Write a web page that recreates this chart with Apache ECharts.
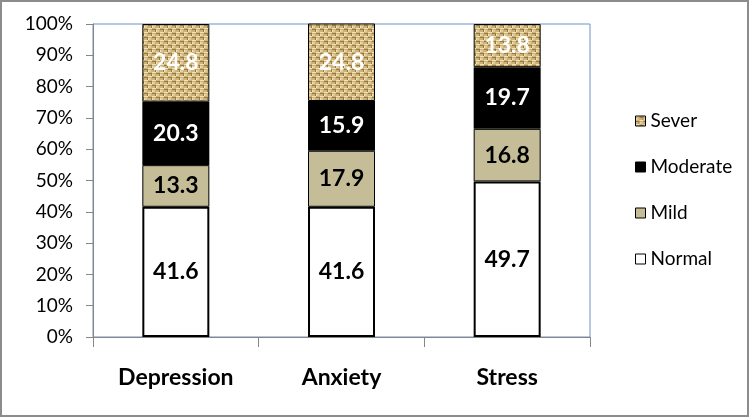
<!DOCTYPE html>
<html>
<head>
<meta charset="utf-8">
<script src="https://cdn.jsdelivr.net/npm/echarts@6/dist/echarts.min.js"></script>
<style>
  html, body { margin: 0; padding: 0; background: #fff; }
  #chart { width: 750px; height: 418px; }
</style>
</head>
<body>
<div id="chart"></div>
<script>
// data
const categories = ['Depression', 'Anxiety', 'Stress']
const normal = [41.6, 41.6, 49.7]
const mild = [13.3, 17.9, 16.8]
const moderate = [20.3, 15.9, 19.7]
const sever = [24.8, 24.8, 13.8]
const legendOrder = ['Sever', 'Moderate', 'Mild', 'Normal']

// burlap-like woven texture for the "Sever" part
function makeWeave () {
  let c = document.createElement('canvas')
  c.width = 8
  c.height = 8
  let ctx = c.getContext('2d')
  ctx.fillStyle = '#cdb37a'
  ctx.fillRect(0, 0, 8, 8)
  ctx.fillStyle = '#efe2b8'
  ctx.fillRect(0, 0, 4, 1)
  ctx.fillRect(4, 4, 4, 1)
  ctx.fillRect(0, 2, 1, 2)
  ctx.fillRect(4, 6, 1, 2)
  ctx.fillStyle = '#977a40'
  ctx.fillRect(4, 1, 4, 1)
  ctx.fillRect(0, 5, 4, 1)
  ctx.fillRect(7, 2, 1, 2)
  ctx.fillRect(3, 6, 1, 2)
  ctx.fillStyle = '#e0cb96'
  ctx.fillRect(1, 2, 2, 2)
  ctx.fillRect(5, 6, 2, 2)
  return c
}
const weave = { image: makeWeave(), repeat: 'repeat' }

let chart = echarts.init(document.getElementById('chart'))

function lbl (color) {
  return {
    show: true,
    position: 'inside',
    color: color,
    fontFamily: 'Lato',
    fontWeight: 'bold',
    fontSize: 23,
    formatter: p => p.value.toFixed(1)
  }
}

let option = {
  animation: false,
  textStyle: { fontFamily: 'Lato' },
  graphic: [{
    type: 'rect',
    shape: { x: 1, y: 1, width: 747, height: 415 },
    style: { fill: 'none', stroke: '#8c8c8c', lineWidth: 2 },
    silent: true
  }],
  grid: {
    left: 93,
    top: 24,
    right: 160,
    bottom: 81,
    show: true,
    borderColor: '#6f93c4',
    borderWidth: 1
  },
  legend: {
    orient: 'vertical',
    left: 630,
    top: 105,
    data: legendOrder,
    icon: 'rect',
    itemWidth: 10,
    itemHeight: 10,
    itemGap: 24,
    itemStyle: { borderColor: '#000', borderWidth: 1 },
    textStyle: { fontSize: 19, color: '#000', fontFamily: 'Lato', lineHeight: 22 }
  },
  xAxis: {
    type: 'category',
    data: categories,
    axisLine: { lineStyle: { color: '#868686', width: 1 } },
    axisTick: { show: true, length: 10, lineStyle: { color: '#868686' } },
    axisLabel: { color: '#000', fontSize: 23, fontWeight: 'bold', margin: 29, fontFamily: 'Lato' }
  },
  yAxis: {
    type: 'value',
    min: 0,
    max: 100,
    interval: 10,
    axisLine: { show: true, lineStyle: { color: '#868686', width: 1 } },
    axisTick: { show: true, length: 7, lineStyle: { color: '#868686' } },
    splitLine: { show: false },
    axisLabel: { color: '#000', fontSize: 19, margin: 20, formatter: '{value}%', fontFamily: 'Lato' }
  },
  series: [
    {
      name: 'Normal',
      type: 'bar',
      stack: 'all',
      barWidth: 67,
      data: normal,
      itemStyle: { color: '#ffffff', borderColor: '#000', borderWidth: 2 },
      label: lbl('#000')
    },
    {
      name: 'Mild',
      type: 'bar',
      stack: 'all',
      data: mild,
      itemStyle: { color: '#c4bd97', borderColor: '#000', borderWidth: 1 },
      label: lbl('#000')
    },
    {
      name: 'Moderate',
      type: 'bar',
      stack: 'all',
      data: moderate,
      itemStyle: { color: '#000000' },
      label: lbl('#fff')
    },
    {
      name: 'Sever',
      type: 'bar',
      stack: 'all',
      data: sever,
      itemStyle: { color: weave, borderColor: '#000', borderWidth: 1 },
      label: lbl('#fff')
    }
  ]
}
chart.setOption(option)
</script>
</body>
</html>
